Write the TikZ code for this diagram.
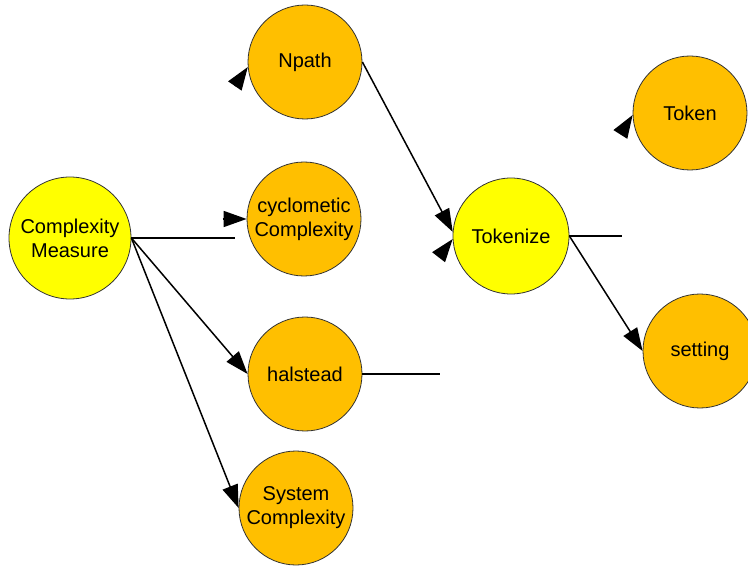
\documentclass[tikz,border=0pt]{standalone}
\usepackage{fontspec}
\setmainfont{Liberation Sans}
\usetikzlibrary{calc}
\usetikzlibrary{arrows.meta}

\definecolor{bubbleyellow}{RGB}{255,255,0}
\definecolor{bubbleorange}{RGB}{255,191,0}

\begin{document}
\begin{tikzpicture}[x=1pt,y=-1pt,
        bubble/.style={circle,draw=black!80,line width=.8pt,minimum size=114pt,inner sep=0pt,
            align=center,font=\fontsize{20}{24}\selectfont,fill=bubbleorange},
        link/.style={line width=1.5pt},
        tip/.style={line width=1.5pt,-{Triangle[length=23pt,width=16pt]}}]
        \useasboundingbox (0,0) rectangle (748,567);
        % the nodes
        \node[bubble,fill=bubbleyellow,minimum size=122pt] (cm) at (70,238) {Complexity\\Measure};
        \node[bubble] (np) at (305,62) {Npath};
        \node[bubble] (cyc) at (304,219) {cyclometic\\Complexity};
        \node[bubble] (hal) at (305,374) {halstead};
        \node[bubble] (sys) at (296,508) {System\\Complexity};
        \node[bubble,fill=bubbleyellow,minimum size=116pt] (tok) at (511,236) {Tokenize};
        \node[bubble] (tk) at (690,113) {Token};
        \node[bubble] (set) at (700,351) {setting};
        % loose ends
        \coordinate (cmEnd) at (235,238);
        \coordinate (halEnd) at (440,374);
        \coordinate (tokEnd) at (622,236);
        \coordinate (cycTail) at ($(cyc.west)+(-24,0)$);
        \coordinate (npTail) at ($(np.185)+(-13,19)$);
        \coordinate (tokTail) at ($(tok.183)+(-14,18)$);
        \coordinate (tkTail) at ($(tk.182)+(-12,19)$);
        % connectors
        \draw[link] (cm.east) -- (cmEnd);
        \draw[tip] (cycTail) -- (cyc.west);
        \draw[tip] (cm.east) -- (hal.west);
        \draw[tip] (cm.east) -- (sys.west);
        \draw[link] (hal.east) -- (halEnd);
        \draw[tip] (npTail) -- (np.185);
        \draw[tip] (np.east) -- (tok.176);
        \draw[tip] (tokTail) -- (tok.183);
        \draw[link] (tok.east) -- (tokEnd);
        \draw[tip] (tok.east) -- (set.west);
        \draw[tip] (tkTail) -- (tk.182);
\end{tikzpicture}
\end{document}
